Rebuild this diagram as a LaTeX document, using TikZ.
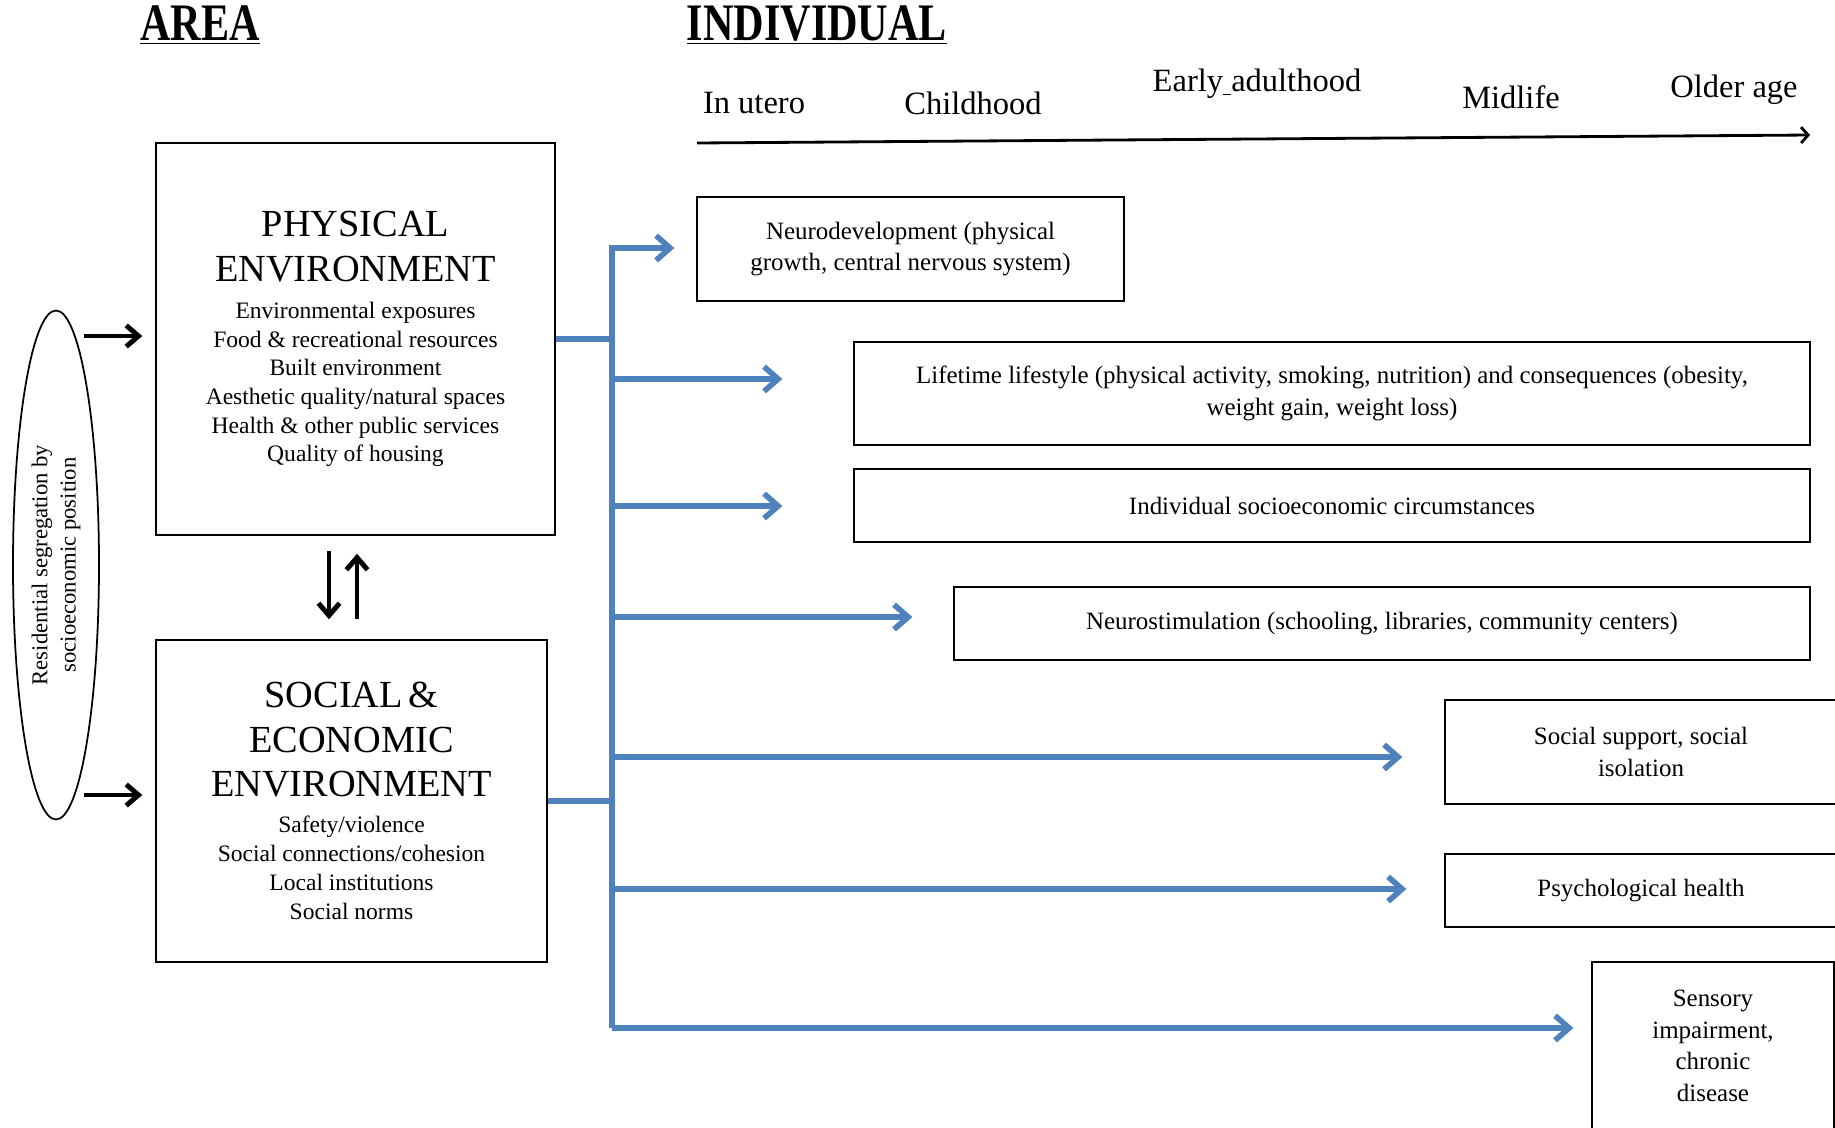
\documentclass[tikz,border=0pt]{standalone}
\usepackage{fontspec}
\setmainfont{Liberation Serif}
\newfontfamily\headfont[FakeStretch=0.8]{Liberation Serif}
\usetikzlibrary{arrows.meta,shapes.geometric}
\definecolor{flowblue}{RGB}{79,129,189}

\begin{document}
\begin{tikzpicture}[x=0.2mm,y=-0.2mm,
    areabox/.style={draw, line width=0.8pt, inner sep=0pt, text width=74mm, align=center},
    outbox/.style={draw, line width=0.7pt, inner sep=0pt, align=center, font=\fontsize{14.2}{18}\selectfont},
    stage/.style={font=\fontsize{18.5}{22}\selectfont},
    push/.style={line width=2.8pt, -{Straight Barb[length=7pt,width=12pt]}},
    flow/.style={flowblue, line width=3.2pt, -{Straight Barb[length=8pt,width=14pt]}}]
          \useasboundingbox (0,0) rectangle (1835,1127);
          \clip (0,0) rectangle (1835,1127);

          % Headings
          \node (area) at (200,25) {\headfont\bfseries\fontsize{30}{32}\selectfont\underline{AREA}};
          \node (indiv) at (817,25) {\headfont\bfseries\fontsize{30}{32}\selectfont\underline{INDIVIDUAL}};

          % Life course
          \node[stage] (utero) at (754,103) {In utero};
          \node[stage] (child) at (973,103) {Childhood};
          \node[stage] (early) at (1257,84) {Early\underline{\ }adulthood};
          \node[stage] (mid) at (1511,97) {Midlife};
          \node[stage] (older) at (1734,90) {Older age};
          \coordinate (tl0) at (697,143);
          \coordinate (tl1) at (1810,135);
          \draw[line width=1.6pt, -{Straight Barb[length=4pt,width=9pt]}] (tl0) -- (tl1);

          % Area boxes
          \node[areabox, minimum width=79.8mm, minimum height=78.4mm] (phys) at (355.5,339)
            {{\fontsize{21.8}{25.5}\selectfont PHYSICAL\\ENVIRONMENT\par}\vspace{5pt}
             {\fontsize{13.4}{16.3}\selectfont Environmental exposures\\Food \& recreational resources\\Built environment\\Aesthetic quality/natural spaces\\Health \& other public services\\Quality of housing\par}};
          \node[areabox, minimum width=78.2mm, minimum height=64.4mm] (soc) at (351.5,801)
            {{\fontsize{21.8}{25.5}\selectfont SOCIAL \&\\ECONOMIC\\ENVIRONMENT\par}\vspace{4pt}
             {\fontsize{13.4}{16.5}\selectfont Safety/violence\\Social connections/cohesion\\Local institutions\\Social norms\par}};
          \node[draw, ellipse, line width=1pt, rotate=90, minimum width=101.8mm, minimum height=17.2mm,
                inner sep=0pt, align=center, font=\fontsize{12.9}{16}\selectfont] (seg) at (56,565)
            {Residential segregation by\\socioeconomic position};

          % Individual boxes
          \node[outbox, minimum width=85.4mm, minimum height=20.8mm] (neuro) at (910.5,249)
            {Neurodevelopment (physical\\growth, central nervous system)};
          \node[outbox, minimum width=191.2mm, minimum height=20.6mm] (life) at (1332,393.5)
            {Lifetime lifestyle (physical activity, smoking, nutrition) and consequences (obesity,\\weight gain, weight loss)};
          \node[outbox, minimum width=191.2mm, minimum height=14.6mm] (ses) at (1332,505.5)
            {Individual socioeconomic circumstances};
          \node[outbox, minimum width=171.2mm, minimum height=14.6mm] (stim) at (1382,623.5)
            {Neurostimulation (schooling, libraries, community centers)};
          \node[outbox, minimum width=78.4mm, minimum height=20.8mm] (supp) at (1641,752)
            {Social support, social\\isolation};
          \node[outbox, minimum width=78.4mm, minimum height=14.6mm] (psych) at (1641,890.5)
            {Psychological health};
          \node[outbox, minimum width=48.4mm, minimum height=33.6mm] (sens) at (1713,1046)
            {Sensory\\impairment,\\chronic\\disease};

          % Black arrows
          \coordinate (a1) at (84,336);
          \coordinate (a2) at (84,795);
          \coordinate (dnx) at (329,580);
          \coordinate (upx) at (357,580);
          \draw[push, shorten >=2.6mm] (a1) -- (a1 -| phys.west);
          \draw[push, shorten >=2.6mm] (a2) -- (a2 -| soc.west);
          \draw[push, shorten <=3mm, shorten >=4mm] (dnx |- phys.south) -- (dnx |- soc.north);
          \draw[push, shorten <=4mm, shorten >=3.6mm] (upx |- soc.north) -- (upx |- phys.south);

          % Blue pathways
          \coordinate (j1) at (612,248);
          \coordinate (j2) at (612,379);
          \coordinate (j3) at (612,506);
          \coordinate (j4) at (612,617);
          \coordinate (j5) at (612,757);
          \coordinate (j6) at (612,889);
          \coordinate (j7) at (612,1028);
          \draw[flowblue, line width=3.2pt] (phys.east) -- (phys.east -| j1);
          \draw[flowblue, line width=3.2pt] (soc.east) -- (soc.east -| j1);
          \draw[flow, shorten >=4.4mm] (j7) -- (j1) -- (j1 -| neuro.west);
          \draw[flow, shorten >=14.2mm] (j2) -- (j2 -| life.west);
          \draw[flow, shorten >=14.2mm] (j3) -- (j3 -| ses.west);
          \draw[flow, shorten >=8.2mm] (j4) -- (j4 -| stim.west);
          \draw[flow, shorten >=8.4mm] (j5) -- (j5 -| supp.west);
          \draw[flow, shorten >=7.6mm] (j6) -- (j6 -| psych.west);
          \draw[flow, shorten >=3.6mm] (j7) -- (j7 -| sens.west);
        \end{tikzpicture}
\end{document}
